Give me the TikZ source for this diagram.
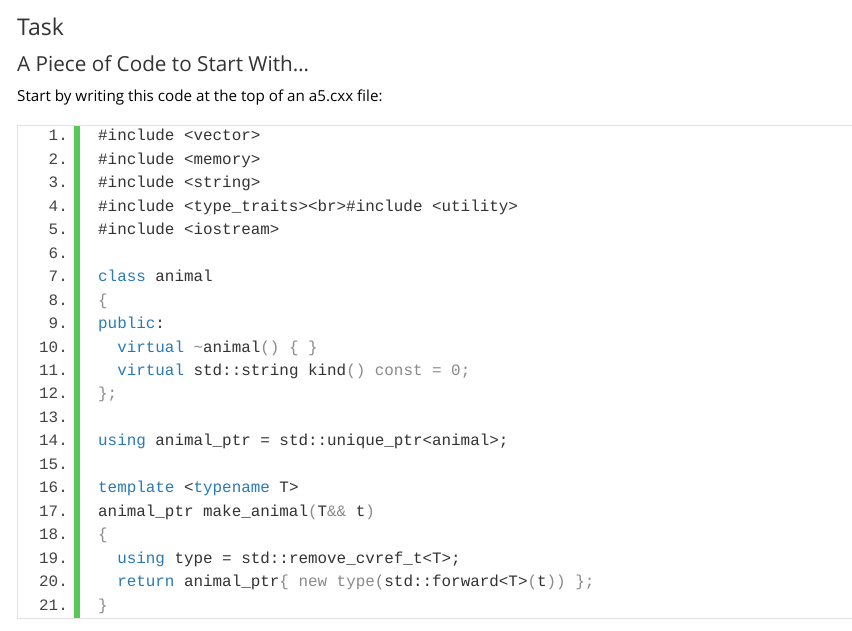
\documentclass[tikz,border=0pt]{standalone}
\usepackage{fontspec}
\setmainfont{Open Sans}
\newfontfamily\codefont{Liberation Mono}
\definecolor{kwc}{HTML}{2B7AB5}
\definecolor{pnc}{HTML}{8A8A8A}
\definecolor{txc}{HTML}{333333}
\definecolor{numc}{HTML}{444444}
\definecolor{barc}{HTML}{57C957}
\definecolor{brd}{HTML}{E2E2E2}
\newcommand{\kw}[1]{\textcolor{kwc}{#1}}
\newcommand{\pn}[1]{\textcolor{pnc}{#1}}
\begin{document}
\begin{tikzpicture}[x=1pt,y=-1pt,
  code/.style={anchor=base west,inner sep=0pt,font=\codefont\fontsize{15.9}{18}\selectfont,text=txc},
  lnum/.style={anchor=base east,inner sep=0pt,font=\codefont\fontsize{15.9}{18}\selectfont,text=numc},
  head/.style={anchor=west,inner sep=0pt,text=txc}]
\useasboundingbox (0,0) rectangle (852,631);
\fill[white] (0,0) rectangle (852,631);
\draw[brd,line width=1pt] (852,126) -- (17.5,126) -- (17.5,618) -- (852,618);
\fill[barc] (74,126) rectangle (80,618);
\node[head,font=\fontsize{23}{26}\selectfont] (t1) at (17,27) {Task};
\node[head,font=\fontsize{20.7}{24}\selectfont] (t2) at (17,64) {A Piece of Code to Start With\ldots};
\node[head,font=\fontsize{15.2}{18}\selectfont,text=black] (t3) at (17,98) {Start by writing this code at the top of an a5.cxx file:};
\foreach \i in {1,...,21} {
  \node[lnum] (n\i) at (68,{136+(\i-1)*23.45+5}) {\i.};
}
\newcommand{\codeln}[2]{\node[code] (c#1) at (98,{136+(#1-1)*23.45+5}) {#2};}
\codeln{1}{\#include <vector>}
\codeln{2}{\#include <memory>}
\codeln{3}{\#include <string>}
\codeln{4}{\#include <type\_traits><br>\#include <utility>}
\codeln{5}{\#include <iostream>}
\codeln{7}{\kw{class} animal}
\codeln{8}{\pn{\{}}
\codeln{9}{\kw{public}:}
\codeln{10}{\ \ \kw{virtual} \pn{\char`\~}animal\pn{() \{ \}}}
\codeln{11}{\ \ \kw{virtual} std::string kind\pn{() const = 0;}}
\codeln{12}{\pn{\};}}
\codeln{14}{\kw{using} animal\_ptr = std::unique\_ptr<animal>;}
\codeln{16}{\kw{template} <\kw{typename} T>}
\codeln{17}{animal\_ptr make\_animal\pn{(}T\pn{\&\&} t\pn{)}}
\codeln{18}{\pn{\{}}
\codeln{19}{\ \ \kw{using} type = std::remove\_cvref\_t<T>;}
\codeln{20}{\ \ \kw{return} animal\_ptr\pn{\{ new type(}std::forward<T>\pn{(}t\pn{)) \};}}
\codeln{21}{\pn{\}}}
\end{tikzpicture}
\end{document}
